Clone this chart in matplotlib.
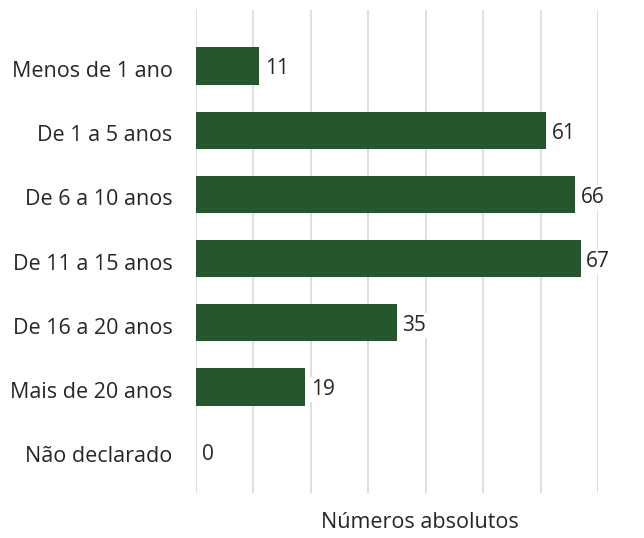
import matplotlib.pyplot as plt
import matplotlib.transforms as mtransforms

categorias = ["Menos de 1 ano", "De 1 a 5 anos", "De 6 a 10 anos", "De 11 a 15 anos",
              "De 16 a 20 anos", "Mais de 20 anos", "Não declarado"]
valores = [11, 61, 66, 67, 35, 19, 0]

plt.rcParams['font.family'] = ['Open Sans', 'DejaVu Sans']

fig = plt.figure(figsize=(6.44, 5.38), dpi=100)
ax = fig.add_axes([196 / 644, 1 - 493 / 538, 402 / 644, 483 / 538])

pos = list(range(len(categorias)))
ax.barh(pos, valores, height=0.58, color='#26562d', zorder=2)

for y, v in zip(pos, valores):
    ax.annotate(str(v), (v, y), xytext=(4, -2), textcoords='offset points',
                va='center', ha='left', fontsize=15, color='#262626',
                bbox=dict(boxstyle='square,pad=0.1', fc='white', ec='none'), zorder=3)

ax.set_xlim(0, 70)
ax.set_ylim(6.65, -0.873)
ax.set_xticks(range(0, 71, 10))
ax.set_xticklabels([])
ax.tick_params(axis='x', length=0)
ax.tick_params(axis='y', length=0, pad=17, labelsize=15.5, labelcolor='#262626')
ax.set_yticks(pos)
ax.set_yticklabels(categorias)

# nudge the category labels a little below the bar centres
shift = mtransforms.ScaledTranslation(0, -3 / 100, fig.dpi_scale_trans)
for lbl in ax.get_yticklabels():
    lbl.set_transform(lbl.get_transform() + shift)

ax.grid(axis='x', color='#d9d9d9', linewidth=1.2, zorder=0)
ax.set_axisbelow(True)
for s in ax.spines.values():
    s.set_visible(False)

fig.text(420 / 644, 1 - 523 / 538, "Números absolutos", ha='center', va='center',
         fontsize=15.5, color='#262626')

fig.savefig('out.png', dpi=100)
